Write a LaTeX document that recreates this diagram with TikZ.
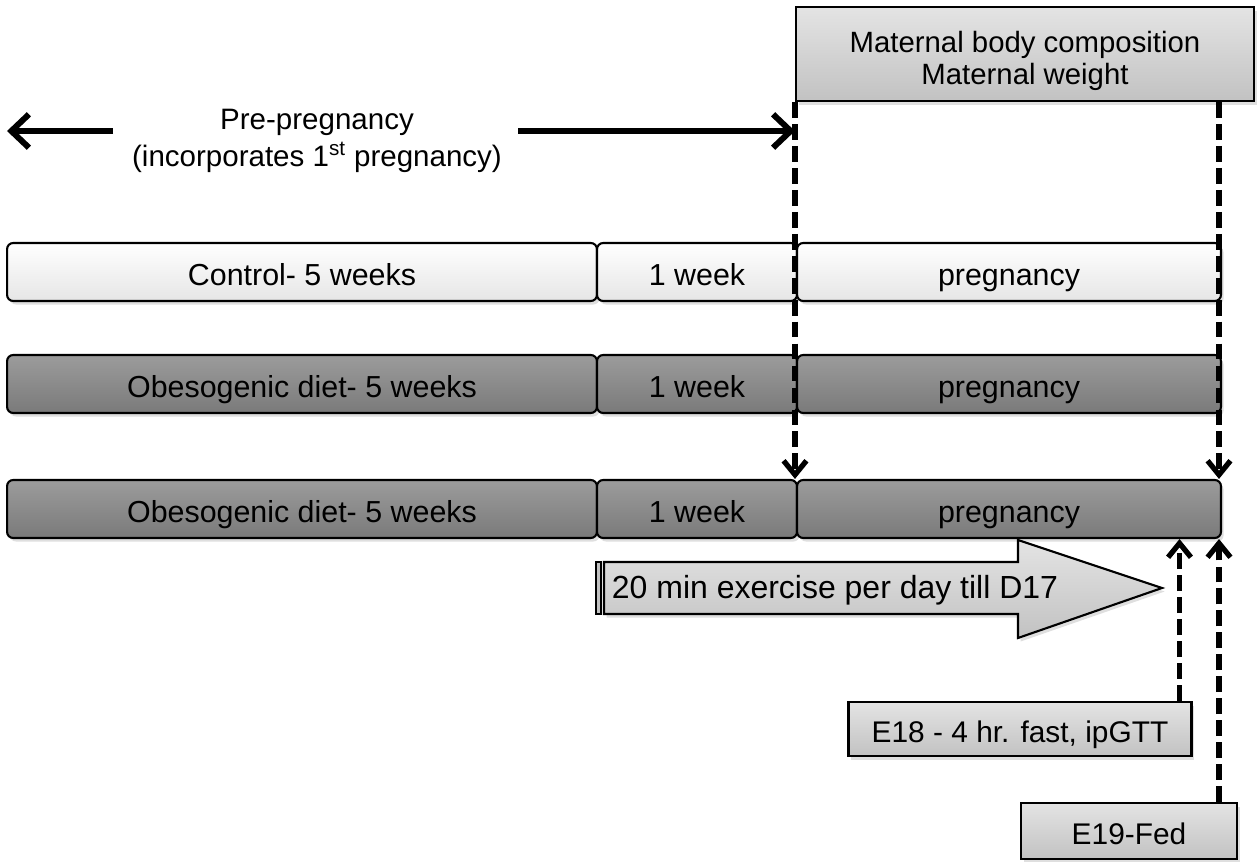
\documentclass[tikz,border=0pt]{standalone}
\usepackage{fontspec}
\setmainfont{Liberation Sans}
\usetikzlibrary{arrows.meta,positioning,calc,shadows}
\definecolor{diet}{HTML}{8A8A8A}
\definecolor{dietdark}{HTML}{7A7A7A}
\definecolor{info}{HTML}{D8D8D8}
\definecolor{infodark}{HTML}{C2C2C2}
\tikzset{seg/.style={draw=black,line width=1.2pt,rounded corners=3.5pt,minimum height=1.16cm,inner sep=0pt,text height=15pt,text depth=0pt,font=\fontsize{17.3}{20}\selectfont,drop shadow={opacity=0.25,shadow xshift=1.5pt,shadow yshift=-2pt}},plainseg/.style={seg,top color=white,bottom color=white!90!black},dietseg/.style={seg,top color=diet!85!white,bottom color=dietdark},infobox/.style={draw=black,line width=1.2pt,top color=info!70!white,bottom color=infodark,inner sep=0pt,align=center,font=\fontsize{17}{19}\selectfont,drop shadow={opacity=0.25,shadow xshift=1.5pt,shadow yshift=-2pt}},dasharrow/.style={line width=3pt,dash pattern=on 9pt off 3.5pt,-{Straight Barb[length=8pt,width=13pt,line width=3pt]}},timearrow/.style={line width=3.4pt,-{Straight Barb[length=10pt,width=19pt,line width=3.4pt]}},lab/.style={font=\fontsize{16.8}{21}\selectfont,align=center,inner sep=0pt}}
\begin{document}
\begin{tikzpicture}[x=0.02cm,y=-0.02cm]
\useasboundingbox (0,0) rectangle (1259,862);
\node[infobox,minimum width=9.16cm,minimum height=1.88cm,font=\fontsize{16.7}{18.7}\selectfont] (top) at (1025,54) {\rule{0pt}{20pt}Maternal body composition\\Maternal weight};
\node[lab] (pre) at (317,141) {Pre-pregnancy\\(incorporates 1\textsuperscript{st} pregnancy)};
\coordinate (pretip) at (7,131);
\coordinate (pretail) at (113,131);
\coordinate (posttail) at (518,131);
\draw[timearrow](pretail)--(pretip);
\draw[timearrow](posttail)--(posttail -| top.south west);
% three groups
\node[plainseg,minimum width=11.8cm] (ctl1) at (302,272) {Control- 5 weeks};
\node[plainseg,minimum width=4cm] (ctl2) at (697,272) {1 week};
\node[plainseg,minimum width=8.48cm] (ctl3) at (1009,272) {pregnancy};
\foreach \r/\y in {a/384,b/509}{
\node[dietseg,minimum width=11.8cm] (ob\r1) at (302,\y) {Obesogenic diet- 5 weeks};
\node[dietseg,minimum width=4cm] (ob\r2) at (697,\y) {1 week};
\node[dietseg,minimum width=8.48cm] (ob\r3) at (1009,\y) {pregnancy};}
% exercise arrow
\draw[line width=1.2pt,top color=info!70!white,bottom color=infodark,drop shadow={opacity=0.25,shadow xshift=1.5pt,shadow yshift=-2pt}] (604,562)--(1018,562)--(1018,540)--(1162,588)--(1018,638)--(1018,614)--(604,614)--cycle;
\draw[line width=1.2pt,fill=infodark] (596,562) rectangle (601,614);
\node[lab,font=\fontsize{18.2}{21}\selectfont] (ex) at (835,590) {20 min exercise per day till D17};
% measurements
\node[infobox,minimum width=6.86cm,minimum height=1.08cm,text height=15pt,text depth=0pt] (e18) at (1020,729) {E18 - 4 hr. fast, ipGTT};
\node[infobox,minimum width=4.32cm,minimum height=1.12cm,text height=15pt,text depth=0pt] (e19) at (1129,831) {E19-Fed};
\coordinate (compR) at ($(top.south east)+(-36,0)$);
\coordinate (e18up) at ($(e18.north east)+(-13,0)$);
\coordinate (e19up) at ($(e19.north east)+(-19,0)$);
\draw[dasharrow](top.south west)--(top.south west |- obb3.north);
\draw[dasharrow](compR)--(compR |- obb3.north);
\draw[dasharrow](e18up)--(e18up |- obb3.south);
\draw[dasharrow](e19up)--(e19up |- obb3.south);
\end{tikzpicture}
\end{document}
